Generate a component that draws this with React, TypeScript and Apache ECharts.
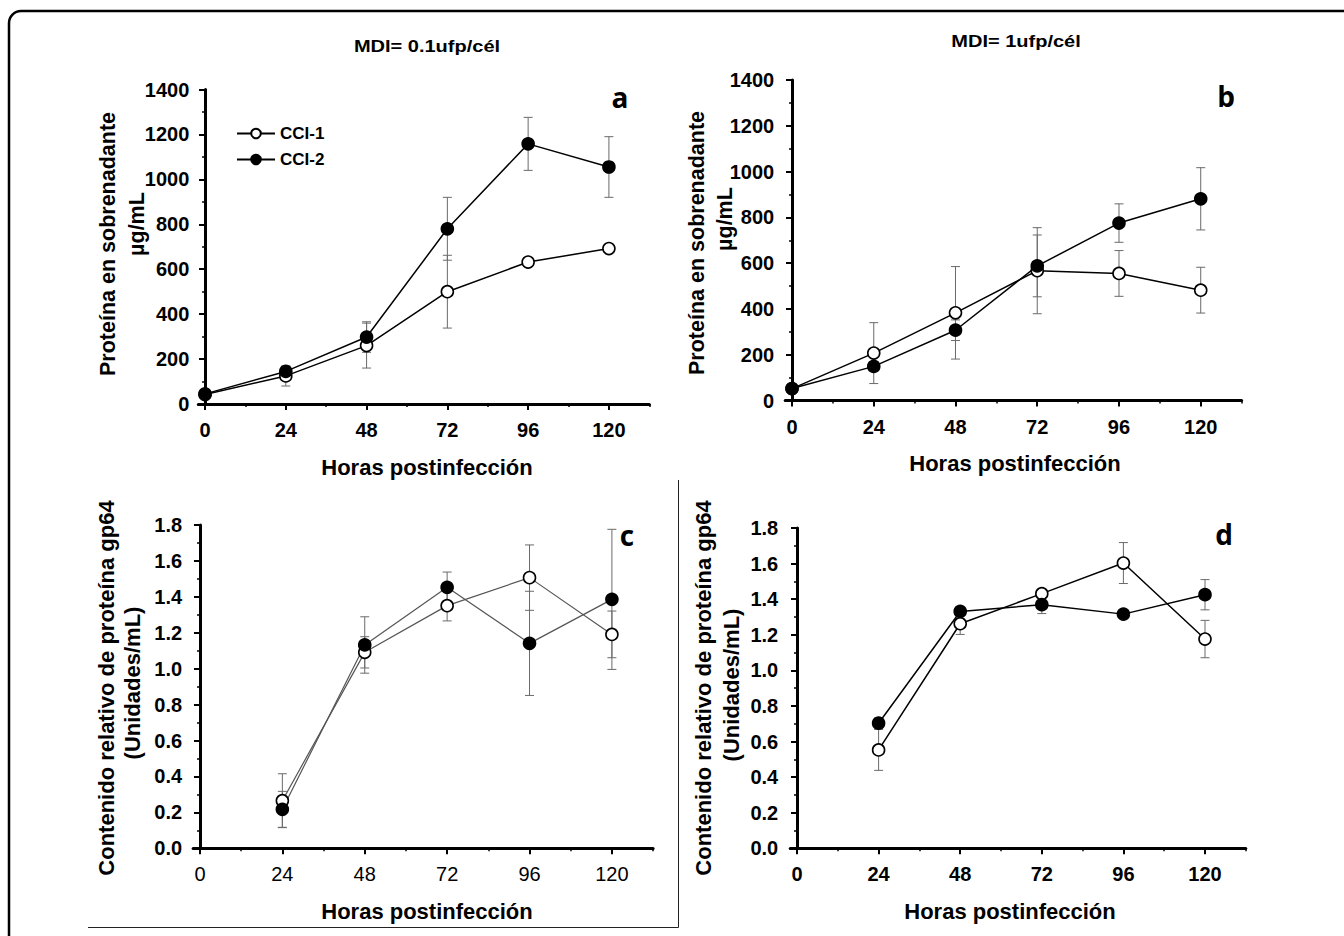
import React, { useEffect, useRef } from "react";
import * as echarts from "echarts";

const FONT = '"Liberation Sans", Arial, sans-serif';

// ---- data ----
const hoursAB = [0, 24, 48, 72, 96, 120];
const hoursCD = [24, 48, 72, 96, 120];
const xMajorTicks = [0, 24, 48, 72, 96, 120];
const xMinorTicks = [12, 36, 60, 84, 108, 132];
const seriesNames = ["CCI-1", "CCI-2"];

const aCCI1 = [42, 125, 260, 500, 632, 692];
const aCCI1Err = [8, 45, 100, 162, 10, 10];
const aCCI2 = [45, 145, 298, 780, 1158, 1055];
const aCCI2Err = [10, 22, 68, 140, 118, 135];

const bCCI1 = [52, 207, 383, 567, 555, 482];
const bCCI1Err = [10, 133, 202, 188, 100, 100];
const bCCI2 = [52, 149, 307, 588, 775, 881];
const bCCI2Err = [10, 20, 45, 135, 84, 136];

const cCCI1 = [0.265, 1.091, 1.351, 1.507, 1.191];
const cCCI1Err = [0.15, 0.087, 0.085, 0.182, 0.13];
const cCCI2 = [0.217, 1.132, 1.453, 1.141, 1.386];
const cCCI2Err = [0.1, 0.157, 0.085, 0.29, 0.39];

const dCCI1 = [0.553, 1.262, 1.431, 1.603, 1.176];
const dCCI1Err = [0.115, 0.06, 0.02, 0.115, 0.105];
const dCCI2 = [0.703, 1.331, 1.369, 1.316, 1.425];
const dCCI2Err = [0.03, 0.02, 0.05, 0.01, 0.085];

// ---- layout ----
const grids = [
  { left: 198.3, top: 89.5, width: 451, height: 314.5 },
  { left: 785.2, top: 80, width: 456.4, height: 320.5 },
  { left: 193.1, top: 525, width: 460, height: 323.3 },
  { left: 790.2, top: 528, width: 455.6, height: 320.3 },
];

const pair = (xs: number[], ys: number[]) => xs.map((x, i) => [x, ys[i]]);
const errData = (xs: number[], ys: number[], es: number[]) =>
  xs.map((x, i) => [x, ys[i] - es[i], ys[i] + es[i]]);

function errSeries(idx: number, data: number[][], color: string) {
  return {
    type: "custom",
    xAxisIndex: idx * 2,
    yAxisIndex: idx,
    z: 1,
    clip: false,
    encode: { x: 0, y: [1, 2] },
    data,
    renderItem: (params: any, api: any) => {
      const x = api.value(0);
      const p1 = api.coord([x, api.value(1)]);
      const p2 = api.coord([x, api.value(2)]);
      const w = 4.5;
      const st = { stroke: color, lineWidth: 1 };
      return {
        type: "group",
        children: [
          { type: "line", shape: { x1: p1[0], y1: p1[1], x2: p2[0], y2: p2[1] }, style: st },
          { type: "line", shape: { x1: p1[0] - w, y1: p1[1], x2: p1[0] + w, y2: p1[1] }, style: st },
          { type: "line", shape: { x1: p2[0] - w, y1: p2[1], x2: p2[0] + w, y2: p2[1] }, style: st },
        ],
      };
    },
  };
}

function lineSeries(idx: number, name: string, data: number[][], filled: boolean, lineColor: string, lineWidth: number) {
  return {
    type: "line",
    name,
    xAxisIndex: idx * 2,
    yAxisIndex: idx,
    z: 3,
    data,
    symbol: "circle",
    symbolSize: 12,
    showSymbol: true,
    clip: false,
    lineStyle: { color: lineColor, width: lineWidth },
    itemStyle: { color: filled ? "#000" : "#fff", borderColor: "#000", borderWidth: 1.6 },
  };
}

function xAxesFor(idx: number, boldLabels: boolean) {
  return [
    {
      type: "value",
      gridIndex: idx,
      position: "bottom",
      min: -2,
      max: 132,
      axisLine: { show: true, onZero: true, lineStyle: { color: "#000", width: 3 } },
      axisTick: { show: true, customValues: xMajorTicks, length: 6, lineStyle: { color: "#000", width: 2 } },
      axisLabel: {
        show: true,
        customValues: xMajorTicks,
        margin: 16,
        color: "#000",
        fontSize: 20,
        fontWeight: boldLabels ? "bold" : "normal",
        fontFamily: FONT,
      },
      splitLine: { show: false },
    },
    {
      type: "value",
      gridIndex: idx,
      position: "bottom",
      min: -2,
      max: 132,
      axisLine: { show: false, onZero: true },
      axisTick: { show: true, customValues: xMinorTicks, length: 3, lineStyle: { color: "#000", width: 1.5 } },
      axisLabel: { show: false },
      splitLine: { show: false },
    },
  ];
}

function yAxisFor(idx: number, max: number, interval: number, decimals: number, margin: number) {
  return {
    type: "value",
    gridIndex: idx,
    min: 0,
    max,
    interval,
    axisLine: { show: true, onZero: true, lineStyle: { color: "#000", width: 3 } },
    axisTick: { show: true, length: 6, lineStyle: { color: "#000", width: 2 } },
    minorTick: { show: true, splitNumber: 2, length: 3, lineStyle: { color: "#000", width: 1.5 } },
    axisLabel: {
      margin,
      color: "#000",
      fontSize: 20,
      fontWeight: "bold",
      fontFamily: FONT,
      formatter: (v: number) => v.toFixed(decimals),
    },
    splitLine: { show: false },
    minorSplitLine: { show: false },
  };
}

function txt(text: string, x: number, y: number, size: number, opts: any = {}) {
  return {
    type: "text",
    x,
    y,
    rotation: opts.rotate ? Math.PI / 2 : 0,
    scaleX: opts.scaleX || 1,
    z: 10,
    style: {
      text,
      fill: "#000",
      font: `${opts.weight || "bold"} ${size}px ${opts.family || FONT}`,
      align: "center",
      verticalAlign: "middle",
    },
  };
}

export default function App() {
  const ref = useRef<HTMLDivElement>(null);
  useEffect(() => {
    if (!ref.current) return;
    const chart = echarts.init(ref.current, undefined, { renderer: "svg" });
    const gray = "#6a6a6a";
    const option: any = {
      animation: false,
      backgroundColor: "#fff",
      grid: grids.map((g) => ({ ...g, containLabel: false, outerBoundsMode: "none" })),
      xAxis: [...xAxesFor(0, true), ...xAxesFor(1, true), ...xAxesFor(2, false), ...xAxesFor(3, true)],
      yAxis: [
        yAxisFor(0, 1400, 200, 0, 9),
        yAxisFor(1, 1400, 200, 0, 11),
        yAxisFor(2, 1.8, 0.2, 1, 11),
        yAxisFor(3, 1.8, 0.2, 1, 12),
      ],
      legend: {
        left: 231,
        top: 120,
        orient: "vertical",
        itemWidth: 38,
        itemHeight: 12,
        itemGap: 9,
        selectedMode: false,
        data: seriesNames,
        textStyle: { color: "#000", fontSize: 17, fontWeight: "bold", fontFamily: FONT },
      },
      series: [
        errSeries(0, errData(hoursAB, aCCI1, aCCI1Err), gray),
        errSeries(0, errData(hoursAB, aCCI2, aCCI2Err), gray),
        lineSeries(0, seriesNames[0], pair(hoursAB, aCCI1), false, "#000", 1.5),
        lineSeries(0, seriesNames[1], pair(hoursAB, aCCI2), true, "#000", 1.5),

        errSeries(1, errData(hoursAB, bCCI1, bCCI1Err), gray),
        errSeries(1, errData(hoursAB, bCCI2, bCCI2Err), gray),
        lineSeries(1, seriesNames[0], pair(hoursAB, bCCI1), false, "#000", 1.5),
        lineSeries(1, seriesNames[1], pair(hoursAB, bCCI2), true, "#000", 1.5),

        errSeries(2, errData(hoursCD, cCCI1, cCCI1Err), gray),
        errSeries(2, errData(hoursCD, cCCI2, cCCI2Err), gray),
        lineSeries(2, seriesNames[0], pair(hoursCD, cCCI1), false, "#555", 1.2),
        lineSeries(2, seriesNames[1], pair(hoursCD, cCCI2), true, "#555", 1.2),

        errSeries(3, errData(hoursCD, dCCI1, dCCI1Err), gray),
        errSeries(3, errData(hoursCD, dCCI2, dCCI2Err), gray),
        lineSeries(3, seriesNames[0], pair(hoursCD, dCCI1), false, "#000", 1.5),
        lineSeries(3, seriesNames[1], pair(hoursCD, dCCI2), true, "#000", 1.5),
      ],
      graphic: [
        {
          type: "rect",
          z: 10,
          shape: { x: 9, y: 11, width: 1400, height: 1000, r: 12 },
          style: { fill: "none", stroke: "#000", lineWidth: 2.5 },
        },
        { type: "line", z: 10, shape: { x1: 88, y1: 927.5, x2: 678.5, y2: 927.5 }, style: { stroke: "#222", lineWidth: 1 } },
        { type: "line", z: 10, shape: { x1: 678.5, y1: 480, x2: 678.5, y2: 927.5 }, style: { stroke: "#222", lineWidth: 1 } },

        txt("MDI= 0.1ufp/cél", 427, 47, 16, { scaleX: 1.25 }),
        txt("MDI= 1ufp/cél", 1016, 42, 16, { scaleX: 1.25 }),

        txt("a", 620, 97, 28, { family: '"Open Sans", sans-serif' }),
        txt("b", 1226, 96, 28, { family: '"Open Sans", sans-serif' }),
        txt("c", 627, 535, 28, { family: '"Open Sans", sans-serif' }),
        txt("d", 1224, 534, 28, { family: '"Open Sans", sans-serif' }),

        txt("Proteína en sobrenadante", 108, 244, 21.5, { rotate: true }),
        txt("µg/mL", 137, 224, 21.5, { rotate: true }),
        txt("Proteína en sobrenadante", 697, 243, 21.5, { rotate: true }),
        txt("µg/mL", 725, 219, 21.5, { rotate: true }),
        txt("Contenido relativo de proteína gp64", 106, 688, 22, { rotate: true }),
        txt("(Unidades/mL)", 132, 683, 22, { rotate: true }),
        txt("Contenido relativo de proteína gp64", 703, 688, 22, { rotate: true }),
        txt("(Unidades/mL)", 731, 685, 22, { rotate: true }),

        txt("Horas postinfección", 427, 467, 22),
        txt("Horas postinfección", 1015, 463, 22),
        txt("Horas postinfección", 427, 911, 22),
        txt("Horas postinfección", 1010, 911, 22),
      ],
    };
    chart.setOption(option);
    return () => chart.dispose();
  }, []);
  return (
    <div
      ref={ref}
      style={{ position: "fixed", left: 0, top: 0, width: 1344, height: 936, background: "#fff" }}
    />
  );
}
